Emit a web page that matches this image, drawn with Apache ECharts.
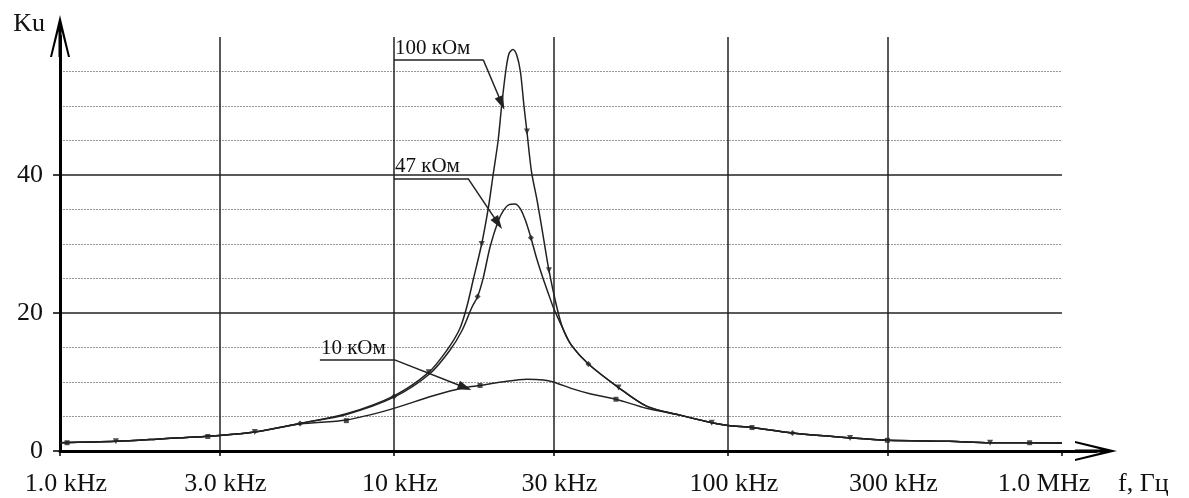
<!DOCTYPE html>
<html>
<head>
<meta charset="utf-8">
<script src="https://cdn.jsdelivr.net/npm/echarts@6/dist/echarts.min.js"></script>
<style>
  html, body { margin: 0; padding: 0; background: #fff; }
  #chartKu { width: 1189px; height: 498px; }
</style>
</head>
<body>
<div id="chartKu"></div>
<script>
// x ticks (Hz) and their labels
const xTicks = [1000, 3000, 10000, 30000, 100000, 300000, 1000000]
const xTickLabels = ['1.0 kHz', '3.0 kHz', '10 kHz', '30 kHz', '100 kHz', '300 kHz', '1.0 MHz']
const yTicks = [0, 20, 40]

// 100 kOhm
const freq100 = [1000, 1470, 2000, 3000, 3830, 5230, 7200, 10000, 12700, 14400, 15700, 16500, 17300, 18300, 19200, 19800, 20500, 21000, 21600, 22100, 22700, 23300, 23900, 24500, 25000, 25800, 26800, 28000, 29100, 30700, 32000, 34000, 38200, 47000, 57000, 71800, 89400, 100000, 118000, 156000, 232000, 300000, 460000, 609000, 800000, 1000000]
const ku100 = [1.2, 1.4, 1.75, 2.25, 2.75, 4.0, 5.4, 8.0, 11.4, 14.6, 17.6, 20.8, 25, 30, 35.5, 40, 45, 50, 55, 57.6, 58.2, 57.4, 55, 50, 46.3, 40.5, 36.4, 31, 26.2, 20.9, 17.8, 15.3, 12.6, 9.2, 6.5, 5.2, 4.1, 3.7, 3.4, 2.6, 1.9, 1.55, 1.4, 1.2, 1.2, 1.15]

// 47 kOhm
const freq47 = [1000, 1470, 2000, 3000, 3830, 5230, 7200, 10000, 12800, 14700, 16000, 17100, 17800, 18500, 19400, 20500, 21300, 22100, 23000, 23900, 24800, 25700, 26700, 27900, 29000, 30000, 32000, 34000, 38200, 47000, 57000, 71800, 89400, 100000, 118000, 156000, 232000, 300000, 460000, 609000, 800000, 1000000]
const ku47 = [1.2, 1.4, 1.75, 2.25, 2.75, 4.0, 5.3, 7.8, 11.2, 14.6, 17.5, 20.8, 22.4, 25.1, 29.6, 33.3, 34.9, 35.7, 35.8, 35.1, 33.3, 30.9, 28.0, 25.1, 22.8, 20.8, 17.8, 15.3, 12.6, 9.2, 6.5, 5.2, 4.1, 3.7, 3.4, 2.6, 1.9, 1.55, 1.4, 1.2, 1.2, 1.15]

// 10 kOhm
const freq10 = [1000, 1470, 2000, 3000, 3830, 5230, 7200, 9700, 13100, 16300, 18100, 21000, 25000, 28000, 30000, 34300, 38600, 46200, 57000, 71800, 89400, 100000, 118000, 156000, 232000, 300000, 460000, 609000, 800000, 1000000]
const ku10 = [1.2, 1.4, 1.75, 2.25, 2.75, 3.9, 4.5, 6.0, 8.0, 9.2, 9.5, 10.0, 10.4, 10.3, 10.0, 9.0, 8.3, 7.5, 6.2, 5.2, 4.1, 3.7, 3.4, 2.6, 1.9, 1.55, 1.4, 1.2, 1.2, 1.15]

// point markers on the curves
const mark100 = [[1470, 1.4], [3830, 2.75], [12700, 11.4], [18300, 30], [25000, 46.3], [29100, 26.2], [47000, 9.2], [89400, 4.1], [232000, 1.9], [609000, 1.2]]
const mark47 = [[5230, 4.0], [10000, 7.9], [17800, 22.4], [25700, 30.9], [38200, 12.6], [156000, 2.6]]
const mark10 = [[1050, 1.2], [2770, 2.1], [7200, 4.4], [18100, 9.5], [46200, 7.5], [118000, 3.4], [300000, 1.55], [800000, 1.2]]

// callouts: label, underline start/end, arrow tip
const calloutNames = ['100 кОм', '47 кОм', '10 кОм']
const calloutStart = [[10000, 56.7], [10000, 39.5], [6000, 13.25]]
const calloutBend = [[18500, 56.7], [16650, 39.5], [10000, 13.25]]
const calloutTip = [[21000, 50.4], [20500, 33.0], [16300, 9.2]]

const zip = (xs, ys) => xs.map((x, i) => [x, ys[i]])

const serif = 'Liberation Serif, Times New Roman, serif'
const ink = '#222'
const arrowPath = 'path://M10,0 L20,42 L18,42 L11.5,16 L11.5,42 L8.5,42 L8.5,16 L2,42 L0,42 Z'

const fmtX = (v) => {
  const i = xTicks.findIndex(t => Math.abs(t - v) / t < 1e-6)
  if (i < 0) return ''
  return i === xTicks.length - 1 ? '{r|' + xTickLabels[i] + '}' : xTickLabels[i]
}

const callout = (i) => ({
  silent: true,
  symbol: ['none', 'none'],
  lineStyle: { color: ink, width: 1.5, type: 'solid' },
  label: { show: false },
  emphasis: { disabled: true },
  data: [
    [
      { coord: calloutStart[i], label: { show: true, formatter: calloutNames[i], position: 'insideStartTop', distance: 1, color: '#111', fontFamily: serif, fontSize: 21 } },
      { coord: calloutBend[i] }
    ],
    [
      { coord: calloutBend[i], symbol: 'none' },
      { coord: calloutTip[i], symbol: 'triangle', symbolSize: [9, 14] }
    ]
  ]
})

const curve = (name, data, i) => ({
  name,
  type: 'line',
  xAxisIndex: 0,
  yAxisIndex: 0,
  data,
  smooth: 0.3,
  showSymbol: false,
  lineStyle: { color: ink, width: 1.5 },
  markLine: callout(i)
})

const markers = (data, symbol, rotate, size) => ({
  type: 'scatter',
  xAxisIndex: 0,
  yAxisIndex: 0,
  data,
  symbol,
  symbolRotate: rotate,
  symbolSize: size,
  itemStyle: { color: ink },
  silent: true
})

const myChart = echarts.init(document.getElementById('chartKu'))
let option = {}
option = {
  animation: false,
  backgroundColor: '#fff',
  grid: [
    { left: 60, top: 37, width: 1002, height: 414 },
    { left: 60, top: 36, width: 1036, height: 415 }
  ],
  xAxis: [
    {
      type: 'log',
      gridIndex: 0,
      logBase: 10,
      min: 1000,
      max: 1000000,
      axisLine: { show: false },
      axisTick: { show: true, customValues: xTicks, length: 5, lineStyle: { color: '#000', width: 1.5 } },
      axisLabel: {
        customValues: xTicks,
        formatter: fmtX,
        margin: 20,
        padding: [0, 0, 0, 12],
        color: '#111',
        fontFamily: serif,
        fontSize: 26,
        rich: { r: { padding: [0, 48, 0, 0] } }
      },
      splitLine: { show: true, showMinLine: false, showMaxLine: false, lineStyle: { color: ink, width: 1.5 } }
    },
    {
      type: 'value',
      gridIndex: 1,
      min: 0,
      max: 1,
      name: 'f, Гц',
      nameLocation: 'end',
      nameGap: 22,
      nameTextStyle: { color: '#111', fontFamily: serif, fontSize: 26, align: 'left', verticalAlign: 'top', padding: [20, 0, 0, 0] },
      axisLine: { show: true, onZero: false, symbol: ['none', arrowPath], symbolSize: [20, 42], lineStyle: { color: '#000', width: 3 } },
      axisTick: { show: false },
      axisLabel: { show: false },
      splitLine: { show: false }
    }
  ],
  yAxis: [
    {
      type: 'value',
      gridIndex: 0,
      min: 0,
      max: 60,
      interval: 20,
      axisLine: { show: false },
      axisTick: { show: true, customValues: yTicks, length: 7, lineStyle: { color: '#000', width: 1.5 } },
      axisLabel: { customValues: yTicks, margin: 17, color: '#111', fontFamily: serif, fontSize: 26 },
      splitLine: { show: true, showMinLine: false, lineStyle: { color: ink, width: 1.5 } },
      minorTick: { show: false, splitNumber: 4 },
      minorSplitLine: { show: true, lineStyle: { color: '#999', width: 1, type: [2, 1] } }
    },
    {
      type: 'value',
      gridIndex: 1,
      min: 0,
      max: 1,
      name: 'Ku',
      nameLocation: 'end',
      nameGap: 25,
      nameTextStyle: { color: '#111', fontFamily: serif, fontSize: 26, align: 'right', verticalAlign: 'top', padding: [0, 15, 0, 0] },
      axisLine: { show: true, onZero: false, symbol: ['none', arrowPath], symbolSize: [20, 42], lineStyle: { color: '#000', width: 3 } },
      axisTick: { show: false },
      axisLabel: { show: false },
      splitLine: { show: false }
    }
  ],
  series: [
    curve('100 кОм', zip(freq100, ku100), 0),
    curve('47 кОм', zip(freq47, ku47), 1),
    curve('10 кОм', zip(freq10, ku10), 2),
    markers(mark100, 'triangle', 180, 6),
    markers(mark47, 'diamond', 0, 6),
    markers(mark10, 'rect', 0, 5)
  ]
}
option && myChart.setOption(option)
</script>
</body>
</html>
